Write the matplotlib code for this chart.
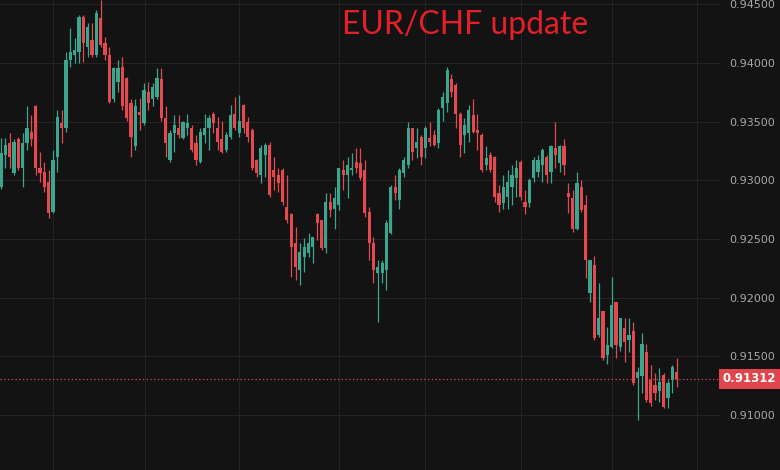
from matplotlib import pyplot as plt
import matplotlib.transforms as mtransforms
import numpy as np

# EUR/CHF candles, left to right
opens = [0.9294, 0.9322, 0.9332, 0.9306, 0.9335, 0.9311, 0.9332, 0.9341, 0.9363, 0.9311,
         0.9307, 0.9299, 0.9273, 0.9320, 0.9349, 0.9345, 0.9403, 0.9407, 0.9409, 0.9439,
         0.9414, 0.9420, 0.9407, 0.9438, 0.9417, 0.9407, 0.9369, 0.9384, 0.9397, 0.9387,
         0.9366, 0.9329, 0.9358, 0.9349, 0.9375, 0.9369, 0.9371, 0.9386, 0.9353, 0.9317,
         0.9340, 0.9345, 0.9336, 0.9345, 0.9345, 0.9332, 0.9316, 0.9339, 0.9345, 0.9357,
         0.9345, 0.9335, 0.9326, 0.9337, 0.9357, 0.9340, 0.9364, 0.9350, 0.9343, 0.9317,
         0.9305, 0.9322, 0.9330, 0.9309, 0.9305, 0.9309, 0.9277, 0.9271, 0.9247, 0.9224,
         0.9235, 0.9238, 0.9243, 0.9271, 0.9266, 0.9242, 0.9282, 0.9276, 0.9279, 0.9309,
         0.9305, 0.9309, 0.9316, 0.9315, 0.9309, 0.9273, 0.9247, 0.9221, 0.9221, 0.9224,
         0.9255, 0.9294, 0.9283, 0.9306, 0.9313, 0.9345, 0.9328, 0.9337, 0.9328, 0.9336,
         0.9339, 0.9332, 0.9362, 0.9366, 0.9386, 0.9381, 0.9357, 0.9339, 0.9340, 0.9356,
         0.9343, 0.9339, 0.9313, 0.9322, 0.9320, 0.9289, 0.9281, 0.9286, 0.9294, 0.9302,
         0.9316, 0.9282, 0.9281, 0.9302, 0.9307, 0.9313, 0.9320, 0.9307, 0.9328, 0.9315,
         0.9329, 0.9289, 0.9285, 0.9259, 0.9294, 0.9279, 0.9204, 0.9228, 0.9168, 0.9189,
         0.9151, 0.9158, 0.9196, 0.9158, 0.9174, 0.9164, 0.9172, 0.9132, 0.9133, 0.9154,
         0.9130, 0.9126, 0.9121, 0.9134, 0.9115, 0.9130, 0.9137]
highs = [0.9336, 0.9336, 0.9340, 0.9335, 0.9337, 0.9340, 0.9363, 0.9356, 0.9364, 0.9324,
         0.9316, 0.9309, 0.9326, 0.9360, 0.9360, 0.9409, 0.9430, 0.9421, 0.9441, 0.9441,
         0.9434, 0.9434, 0.9445, 0.9454, 0.9422, 0.9414, 0.9397, 0.9403, 0.9405, 0.9388,
         0.9369, 0.9369, 0.9370, 0.9383, 0.9384, 0.9383, 0.9396, 0.9396, 0.9363, 0.9343,
         0.9356, 0.9356, 0.9351, 0.9357, 0.9347, 0.9339, 0.9345, 0.9357, 0.9356, 0.9358,
         0.9354, 0.9351, 0.9341, 0.9364, 0.9371, 0.9373, 0.9365, 0.9354, 0.9345, 0.9318,
         0.9330, 0.9332, 0.9333, 0.9320, 0.9311, 0.9311, 0.9305, 0.9272, 0.9260, 0.9247,
         0.9251, 0.9255, 0.9252, 0.9272, 0.9266, 0.9289, 0.9289, 0.9294, 0.9311, 0.9317,
         0.9320, 0.9323, 0.9328, 0.9328, 0.9317, 0.9277, 0.9252, 0.9232, 0.9232, 0.9266,
         0.9296, 0.9305, 0.9311, 0.9320, 0.9350, 0.9345, 0.9345, 0.9339, 0.9346, 0.9350,
         0.9343, 0.9362, 0.9375, 0.9397, 0.9391, 0.9383, 0.9358, 0.9353, 0.9364, 0.9369,
         0.9357, 0.9340, 0.9329, 0.9324, 0.9321, 0.9296, 0.9305, 0.9309, 0.9313, 0.9317,
         0.9317, 0.9292, 0.9302, 0.9320, 0.9322, 0.9328, 0.9322, 0.9330, 0.9350, 0.9330,
         0.9335, 0.9298, 0.9292, 0.9307, 0.9300, 0.9288, 0.9232, 0.9236, 0.9213, 0.9189,
         0.9175, 0.9218, 0.9196, 0.9183, 0.9183, 0.9183, 0.9179, 0.9141, 0.9170, 0.9161,
         0.9143, 0.9136, 0.9140, 0.9136, 0.9130, 0.9143, 0.9149]
lows = [0.9293, 0.9311, 0.9311, 0.9305, 0.9309, 0.9294, 0.9326, 0.9329, 0.9305, 0.9299,
        0.9290, 0.9268, 0.9272, 0.9307, 0.9332, 0.9341, 0.9397, 0.9400, 0.9400, 0.9401,
        0.9405, 0.9405, 0.9405, 0.9414, 0.9403, 0.9366, 0.9367, 0.9375, 0.9360, 0.9351,
        0.9320, 0.9326, 0.9343, 0.9347, 0.9360, 0.9363, 0.9369, 0.9351, 0.9320, 0.9316,
        0.9324, 0.9336, 0.9335, 0.9339, 0.9324, 0.9313, 0.9315, 0.9332, 0.9326, 0.9340,
        0.9326, 0.9323, 0.9324, 0.9335, 0.9343, 0.9337, 0.9340, 0.9333, 0.9309, 0.9303,
        0.9298, 0.9303, 0.9286, 0.9292, 0.9290, 0.9279, 0.9264, 0.9218, 0.9215, 0.9211,
        0.9222, 0.9235, 0.9230, 0.9249, 0.9241, 0.9238, 0.9269, 0.9259, 0.9275, 0.9292,
        0.9285, 0.9305, 0.9306, 0.9300, 0.9269, 0.9232, 0.9213, 0.9179, 0.9213, 0.9207,
        0.9254, 0.9283, 0.9276, 0.9303, 0.9311, 0.9317, 0.9319, 0.9313, 0.9319, 0.9329,
        0.9329, 0.9328, 0.9351, 0.9358, 0.9371, 0.9345, 0.9320, 0.9323, 0.9333, 0.9340,
        0.9326, 0.9307, 0.9309, 0.9307, 0.9282, 0.9273, 0.9276, 0.9276, 0.9279, 0.9286,
        0.9283, 0.9271, 0.9277, 0.9299, 0.9303, 0.9299, 0.9298, 0.9298, 0.9311, 0.9307,
        0.9305, 0.9272, 0.9256, 0.9258, 0.9273, 0.9217, 0.9196, 0.9164, 0.9167, 0.9147,
        0.9144, 0.9157, 0.9149, 0.9155, 0.9145, 0.9154, 0.9126, 0.9096, 0.9119, 0.9111,
        0.9108, 0.9113, 0.9111, 0.9106, 0.9106, 0.9119, 0.9124]
closes = [0.9323, 0.9330, 0.9320, 0.9333, 0.9311, 0.9332, 0.9345, 0.9335, 0.9311, 0.9306,
          0.9294, 0.9272, 0.9317, 0.9354, 0.9345, 0.9403, 0.9409, 0.9411, 0.9439, 0.9417,
          0.9431, 0.9407, 0.9443, 0.9415, 0.9407, 0.9367, 0.9396, 0.9396, 0.9363, 0.9353,
          0.9337, 0.9363, 0.9356, 0.9377, 0.9366, 0.9380, 0.9387, 0.9353, 0.9332, 0.9340,
          0.9347, 0.9339, 0.9350, 0.9349, 0.9326, 0.9317, 0.9341, 0.9345, 0.9353, 0.9349,
          0.9333, 0.9324, 0.9339, 0.9356, 0.9345, 0.9351, 0.9345, 0.9337, 0.9311, 0.9306,
          0.9328, 0.9330, 0.9288, 0.9303, 0.9298, 0.9282, 0.9266, 0.9243, 0.9226, 0.9239,
          0.9243, 0.9247, 0.9252, 0.9264, 0.9242, 0.9282, 0.9275, 0.9285, 0.9311, 0.9305,
          0.9313, 0.9311, 0.9311, 0.9302, 0.9272, 0.9247, 0.9224, 0.9226, 0.9230, 0.9264,
          0.9294, 0.9289, 0.9309, 0.9317, 0.9345, 0.9324, 0.9333, 0.9320, 0.9345, 0.9333,
          0.9330, 0.9360, 0.9371, 0.9394, 0.9375, 0.9357, 0.9330, 0.9347, 0.9360, 0.9341,
          0.9340, 0.9309, 0.9319, 0.9309, 0.9286, 0.9279, 0.9294, 0.9299, 0.9305, 0.9311,
          0.9286, 0.9277, 0.9300, 0.9317, 0.9317, 0.9326, 0.9305, 0.9329, 0.9322, 0.9329,
          0.9313, 0.9286, 0.9259, 0.9298, 0.9275, 0.9232, 0.9232, 0.9166, 0.9183, 0.9149,
          0.9160, 0.9194, 0.9160, 0.9183, 0.9162, 0.9168, 0.9127, 0.9137, 0.9161, 0.9113,
          0.9110, 0.9119, 0.9128, 0.9107, 0.9127, 0.9141, 0.91312]

price_ticks = [0.910, 0.915, 0.920, 0.925, 0.930, 0.935, 0.940, 0.945]
last_price = 0.91312
# candle index where the vertical (time) grid lines sit
time_grid = [12.0, 33.3, 55.0, 78.1, 97.9, 120.1, 141.1, 160.7]

bg = '#131313'
up_col = '#3ba58d'
down_col = '#e24a4f'

o = np.array(opens)
h = np.array(highs)
l = np.array(lows)
c = np.array(closes)
x = np.arange(len(o))
cols = np.where(c >= o, up_col, down_col)

fig = plt.figure(figsize=(7.8, 4.7), dpi=100, facecolor=bg)
ax = fig.add_axes([0, 0, 720 / 780, 1])
ax.set_facecolor(bg)

# wicks then bodies
ax.vlines(x, l, h, colors=cols, linewidth=0.9, zorder=3)
body_h = np.maximum(np.abs(c - o), 0.00004)
ax.bar(x, body_h, bottom=np.minimum(o, c), width=0.74, color=cols, linewidth=0, zorder=4)

# last price line + label
ax.axhline(last_price, color='#e24a4f', linestyle=(0, (1, 2)), linewidth=0.9, zorder=2)
trans = mtransforms.blended_transform_factory(ax.transAxes, ax.transData)
ax.text(1.041, last_price, '%.5f' % last_price, transform=trans, ha='center', va='center',
        color='white', fontsize=8.5, fontweight='bold', clip_on=False,
        bbox=dict(boxstyle='square,pad=0.3', facecolor='#e0454c', edgecolor='none'))

ax.set_xlim(-0.23, 166.0)
ax.set_ylim(0.90533, 0.94537)
ax.set_yticks(price_ticks)
ax.set_yticklabels(['%.5f' % p for p in price_ticks])
ax.set_xticks(time_grid)
ax.set_xticklabels([])
ax.yaxis.tick_right()
ax.tick_params(axis='y', length=0, pad=7, labelsize=8, labelcolor='#a8a8a8')
ax.tick_params(axis='x', length=0)
ax.grid(True, color='#242424', linewidth=0.8, zorder=0)
for s in ax.spines.values():
    s.set_visible(False)

fig.text(465 / 780, 1 - 25 / 470, 'EUR/CHF update', color='#e3202a', fontsize=23,
         family='Lato', ha='center', va='center')

plt.savefig('out.png', dpi=100, facecolor=bg)
